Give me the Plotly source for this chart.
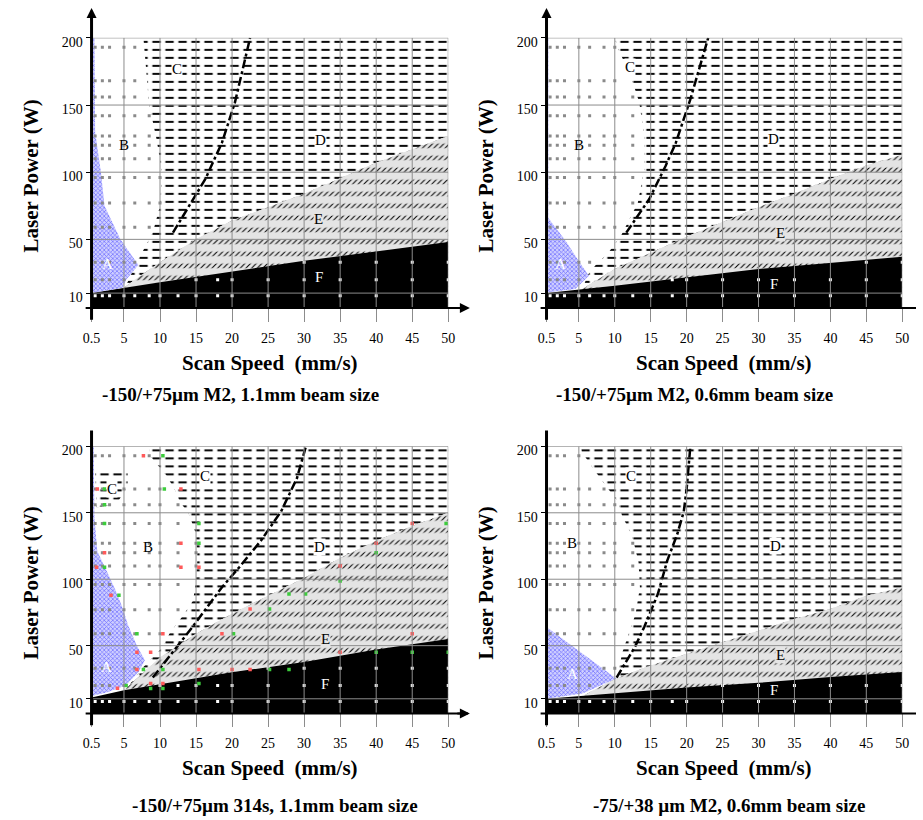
import numpy as np
import plotly.graph_objects as go

FIG_W, FIG_H = 923, 820
SERIF = "Liberation Serif"

# ---------------------------------------------------------------- data
# experimental grid: scan speed (mm/s) x laser power (W)
speeds = [1, 2, 3, 5, 6.5, 8.5, 10, 12.5, 15, 18, 20, 25, 30, 35, 40, 45, 50]
powers = [8, 20, 33, 59, 77, 96, 110, 120, 127, 142, 156, 168, 193]

x_tick_vals = [0.5, 5, 10, 15, 20, 25, 30, 35, 40, 45, 50]
x_tick_text = ["0.5", "5", "10", "15", "20", "25", "30", "35", "40", "45", "50"]
y_tick_vals = [10, 50, 100, 150, 200]

# panel 1: -150/+75um M2, 1.1mm beam
p1_f_x = [0.5, 5, 10, 30, 50]
p1_f_y = [10, 14, 18, 34, 48]
p1_e_x = [5, 6.5, 10, 15, 20, 30, 40, 50]
p1_e_y = [14, 20, 33, 50, 64, 84, 107, 127]
p1_cd_x = [7.7, 8.5, 9.5, 10.3, 10, 9, 7.5, 6.5, 5.5]
p1_cd_y = [200, 150, 125, 100, 75, 55, 40, 30, 18]
p1_a_x = [0.5, 0.9, 1.0, 1.8, 2.3, 4.5, 7.0, 5.3, 4.8, 0.5]
p1_a_y = [200, 200, 130, 100, 75, 50, 31, 20, 14, 10]
p1_cd_div_x = [11.8, 16.3, 18.6, 20.4, 22.5]
p1_cd_div_y = [55, 95, 122, 152, 200]
p1_labels = {"A": (2.7, 32), "B": (5.0, 120), "C": (12.3, 177), "D": (32.3, 124),
             "E": (32, 65), "F": (32, 22)}

# panel 2: -150/+75um M2, 0.6mm beam
p2_f_x = [0.5, 10, 30, 50]
p2_f_y = [10, 15.5, 28, 37]
p2_e_x = [5.5, 10, 15, 20, 25, 30, 35, 40, 45, 50]
p2_e_y = [13, 28, 40, 52, 63, 74, 84, 95, 105, 113]
p2_cd_x = [10.0, 10.3, 11.4, 12.5, 13.4, 14.1, 14.1, 13.2, 10.9, 9.1, 6.8, 6.2]
p2_cd_y = [200, 194, 181, 167, 152, 127, 102, 77, 53, 40, 28, 23]
p2_a_x = [0.5, 0.75, 0.75, 3.2, 5.0, 6.4, 4.5, 0.5]
p2_a_y = [200, 200, 66, 48.6, 33.7, 23, 13, 10.5]
p2_cd_div_x = [11.6, 14.8, 17.1, 18.5, 20.5, 22.1, 23]
p2_cd_div_y = [55, 80, 105, 122, 154, 183, 200]
p2_labels = {"A": (2.5, 32), "B": (5.0, 120), "C": (12.1, 178), "D": (32.1, 125),
             "E": (33.1, 55), "F": (32.1, 17)}

# panel 3: -150/+75um 314s, 1.1mm beam
p3_f_x = [0.5, 5, 10, 20, 30, 40, 50]
p3_f_y = [11, 16.5, 21, 30, 37.6, 47, 55]
p3_e_x = [5, 7, 10, 15, 20, 25, 30, 35, 40, 45, 50]
p3_e_y = [16.5, 26, 41, 59, 74, 87.5, 101, 116, 129, 140, 150]
p3_cd_x = [8.6, 8.6, 10.9, 12, 12.7, 14, 15, 15.2, 15, 14.6, 13.1, 11.3, 10.4, 7.7, 6.3, 5.2]
p3_cd_y = [200, 193, 178, 168, 159, 149, 134, 116, 99, 84, 72, 59, 49, 34, 24, 18]
p3_c2_x = [1, 5.5, 5.5, 4, 1.2]
p3_c2_y = [183, 183, 170, 157, 154]
p3_a_x = [0.5, 0.8, 0.9, 1.3, 2.7, 3.8, 4.7, 5.6, 6.8, 7.9, 7.0, 5.2, 2.7, 0.5]
p3_a_y = [200, 200, 146, 121, 105, 92, 80, 65, 50, 39, 30, 20, 15, 12]
p3_cd_div_x = [9, 14.5, 18.6, 21, 24, 26.8, 29, 30.2]
p3_cd_div_y = [26, 64, 94, 109, 129, 151, 176, 199]
p3_labels = {"A": (2.6, 34), "B": (8.4, 124), "C": (16.3, 178), "C2": (3.4, 168),
             "D": (32.2, 124), "E": (32.9, 55), "F": (32.9, 21.5)}
# observed track outcomes for panel 3
p3_red_x = [7.7, 1.3, 12.9, 12.9, 2.3, 1.2, 12.9, 15.4, 3.2, 10.4, 6.8, 8.7, 6.8,
            15.4, 20, 22.5, 4.1, 8.7, 10.4, 18.6, 22.5, 35, 40, 45, 45, 35]
p3_red_y = [193, 168, 168, 127, 120, 109, 109, 109, 88, 59, 45, 45, 32,
            32, 32, 32, 18, 21.5, 21.5, 59, 77.6, 110, 127, 142, 59, 45]
p3_green_x = [10.4, 2.3, 10.6, 2.3, 2.3, 15.4, 15.4, 2.3, 4.3, 6.8, 7.7, 10.4, 5.3,
              8.7, 10.4, 15.4, 20.2, 25.2, 27.9, 30.2, 35, 40, 49.7, 40, 45, 50, 25.2, 27.9]
p3_green_y = [193, 168, 168, 156, 142, 142, 127, 109, 88, 59, 32, 32, 20,
              17.7, 17.7, 21.5, 59, 77.6, 88.8, 88.8, 98.7, 120, 142, 45, 45, 45, 32, 32]

# panel 4: -75/+38um M2, 0.6mm beam
p4_f_x = [0.5, 5, 10, 20, 30, 40, 50]
p4_f_y = [10, 12, 14.5, 18.5, 22, 26.4, 30.2]
p4_e_x = [5.8, 10.2, 15, 20, 25, 30, 35, 40, 45, 50]
p4_e_y = [12.8, 25.5, 35, 44, 52.6, 61.3, 70, 77.5, 87.5, 93.7]
p4_cd_x = [5.3, 5.4, 6.4, 7.3, 9.1, 10.5, 11, 12.4, 13.3, 13.5, 12.9, 11.9, 11, 10.5, 10.2]
p4_cd_y = [200, 196, 188, 181, 168, 158, 148, 133, 113, 94, 74, 59, 44, 29, 25.5]
p4_a_x = [0.5, 10.2, 5.5, 0.5]
p4_a_y = [64, 25.2, 14, 10]
p4_cd_div_x = [10.25, 12.8, 14.1, 16, 17.3, 18.7, 19.6, 20, 20.5]
p4_cd_div_y = [26, 49, 64, 89, 114, 134, 151, 168, 199]
p4_labels = {"A": (4.1, 29), "B": (4.1, 127), "C": (12.3, 178), "D": (32.4, 125),
             "E": (33.1, 42.6), "F": (32.2, 16.5)}

subtitles = ["-150/+75µm M2, 1.1mm beam size",
             "-150/+75µm M2, 0.6mm beam size",
             "-150/+75µm 314s, 1.1mm beam size",
             "-75/+38 µm M2, 0.6mm beam size"]

# ---------------------------------------------------------------- layout geometry (pixels)
# (left, right, top, bottom) of each plotting area
boxes = [(84, 447, 35, 306), (547, 909, 35, 306), (84, 447, 445, 713), (547, 909, 445, 713)]
X_RANGE = [0.5, 50]
Y_RANGE = [-1, 200]


def px(x):
    return x / FIG_W


def py(y):
    return 1 - y / FIG_H


panels = [
    dict(f=(p1_f_x, p1_f_y), e=(p1_e_x, p1_e_y), cd=(p1_cd_x, p1_cd_y), a=(p1_a_x, p1_a_y),
         div=(p1_cd_div_x, p1_cd_div_y), labels=p1_labels, extra_c=None, arrow_top=True),
    dict(f=(p2_f_x, p2_f_y), e=(p2_e_x, p2_e_y), cd=(p2_cd_x, p2_cd_y), a=(p2_a_x, p2_a_y),
         div=(p2_cd_div_x, p2_cd_div_y), labels=p2_labels, extra_c=None, arrow_top=True),
    dict(f=(p3_f_x, p3_f_y), e=(p3_e_x, p3_e_y), cd=(p3_cd_x, p3_cd_y), a=(p3_a_x, p3_a_y),
         div=(p3_cd_div_x, p3_cd_div_y), labels=p3_labels, extra_c=(p3_c2_x, p3_c2_y),
         arrow_top=False),
    dict(f=(p4_f_x, p4_f_y), e=(p4_e_x, p4_e_y), cd=(p4_cd_x, p4_cd_y), a=(p4_a_x, p4_a_y),
         div=(p4_cd_div_x, p4_cd_div_y), labels=p4_labels, extra_c=None, arrow_top=False),
]

CLEAR = "rgba(255,255,255,0)"
E_BG = "#e4e4e4"
DASH_PATTERN = dict(shape="-", fgcolor="black", bgcolor="white", size=8, solidity=0.24, fgopacity=1)
DASH_CUTS = dict(shape="|", fgcolor="white", bgcolor=CLEAR, size=13, solidity=0.36, fgopacity=1)
SLASH_PATTERN = dict(shape="/", fgcolor="black", bgcolor=E_BG, size=4, solidity=0.26, fgopacity=1)
SLASH_CUTS = dict(shape="-", fgcolor=E_BG, bgcolor=CLEAR, size=12, solidity=0.62, fgopacity=1)
A_PATTERN = dict(shape="x", fgcolor="#6c6cff", bgcolor="#cfcfff", size=3, solidity=0.4, fgopacity=1)


def region(x, y, xa, ya, pattern=None, color=None):
    kw = dict(x=x, y=y, mode="lines", fill="toself", line=dict(width=0, color="rgba(0,0,0,0)"),
              xaxis=xa, yaxis=ya, hoverinfo="skip", showlegend=False)
    if pattern is not None:
        kw["fillpattern"] = pattern
        kw["fillcolor"] = pattern["bgcolor"]
    else:
        kw["fillcolor"] = color
    return go.Scatter(**kw)


def classify(s, p, pan):
    fx, fy = pan["f"]
    ex, ey = pan["e"]
    cx, cy = pan["cd"]
    if p < np.interp(s, fx, fy):
        return "white"
    if s >= ex[0] and p < np.interp(s, ex, ey):
        return None
    edge = np.interp(p, cy[::-1], cx[::-1])
    if s > edge:
        return None
    return "gray"


fig = go.Figure()
layout = dict(width=FIG_W, height=FIG_H, margin=dict(l=0, r=0, t=0, b=0),
              paper_bgcolor="white", plot_bgcolor="white", autosize=False)
shapes, annotations = [], []

for i, pan in enumerate(panels):
    n = "" if i == 0 else str(i + 1)
    xa, ya = "x" + n, "y" + n
    l, r, t, b = boxes[i]
    layout["xaxis" + n] = dict(
        domain=[px(l), px(r)], range=X_RANGE, anchor=ya, tickvals=x_tick_vals,
        ticktext=x_tick_text, ticks="outside", ticklen=13, tickcolor="#8c8c8c", tickwidth=1,
        ticklabelstandoff=4,
        showgrid=False, zeroline=False, showline=False, fixedrange=True,
        tickfont=dict(family=SERIF, size=14, color="black"))
    layout["yaxis" + n] = dict(
        domain=[py(b), py(t)], range=Y_RANGE, anchor=xa, tickvals=y_tick_vals,
        ticks="outside", ticklen=5, tickcolor="black", tickwidth=1, ticklabelshift=4,
        showgrid=False, zeroline=False, showline=False, fixedrange=True,
        tickfont=dict(family=SERIF, size=14, color="black"))

    fx, fy = pan["f"]
    ex, ey = pan["e"]
    cx, cy = pan["cd"]
    # C / D: dashed region bounded by its left edge and the top of E
    cd_x = list(cx) + list(ex) + [50]
    cd_y = list(cy) + list(ey) + [200]
    fig.add_trace(region(cd_x, cd_y, xa, ya, DASH_PATTERN))
    fig.add_trace(region(cd_x, cd_y, xa, ya, DASH_CUTS))
    if pan["extra_c"] is not None:
        c2x, c2y = pan["extra_c"]
        fig.add_trace(region(c2x, c2y, xa, ya, DASH_PATTERN))
        fig.add_trace(region(c2x, c2y, xa, ya, DASH_CUTS))
    # E: hatched band
    e_x = list(ex) + [50, ex[0]]
    e_y = list(ey) + [-1, -1]
    fig.add_trace(region(e_x, e_y, xa, ya, SLASH_PATTERN))
    fig.add_trace(region(e_x, e_y, xa, ya, SLASH_CUTS))
    # F: solid black
    fig.add_trace(region(list(fx) + [50, 0.5], list(fy) + [-1, -1], xa, ya, color="black"))
    # A: blue
    ax_, ay_ = pan["a"]
    fig.add_trace(region(ax_, ay_, xa, ya, A_PATTERN))
    # C / D divider
    dx, dy = pan["div"]
    fig.add_trace(go.Scatter(x=dx, y=dy, mode="lines", xaxis=xa, yaxis=ya,
                             line=dict(color="black", width=2.5, dash="dashdot"),
                             hoverinfo="skip", showlegend=False))
    # experimental grid points
    gx, gy, wx, wy = [], [], [], []
    for s in speeds:
        for p in powers:
            c = classify(s, p, pan)
            if c == "gray":
                gx.append(s); gy.append(p)
            elif c == "white":
                wx.append(s); wy.append(p)
    fig.add_trace(go.Scatter(x=gx, y=gy, mode="markers", xaxis=xa, yaxis=ya,
                             marker=dict(symbol="square", size=3, color="#8a8a8a"),
                             hoverinfo="skip", showlegend=False))
    fig.add_trace(go.Scatter(x=wx, y=wy, mode="markers", xaxis=xa, yaxis=ya,
                             marker=dict(symbol="square", size=3, color="white"),
                             hoverinfo="skip", showlegend=False))
    if i == 2:
        fig.add_trace(go.Scatter(x=p3_red_x, y=p3_red_y, mode="markers", xaxis=xa, yaxis=ya,
                                 marker=dict(symbol="square", size=3.5, color="#ff5a5a"),
                                 hoverinfo="skip", showlegend=False))
        fig.add_trace(go.Scatter(x=p3_green_x, y=p3_green_y, mode="markers", xaxis=xa, yaxis=ya,
                                 marker=dict(symbol="square", size=3.5, color="#3ccc3c"),
                                 hoverinfo="skip", showlegend=False))

    # grid lines drawn above the regions
    for gxv in x_tick_vals[1:]:
        shapes.append(dict(type="line", xref=xa, yref=ya, x0=gxv, x1=gxv, y0=-1, y1=200,
                           line=dict(color="#8c8c8c", width=1), layer="above"))
    for gyv in y_tick_vals:
        shapes.append(dict(type="line", xref=xa, yref=ya, x0=0.5, x1=50, y0=gyv, y1=gyv,
                           line=dict(color="#8c8c8c", width=1), layer="above"))

    # axis lines with arrows
    y_top = 8 if pan["arrow_top"] else (t - 16)
    shapes.append(dict(type="line", xref="paper", yref="paper", x0=px(l), x1=px(l),
                       y0=py(b + 12), y1=py(y_top), line=dict(color="black", width=3),
                       layer="above"))
    x_end = r + 20 if i % 2 == 0 else FIG_W
    shapes.append(dict(type="line", xref="paper", yref="paper", x0=px(l - 6), x1=px(x_end),
                       y0=py(b), y1=py(b), line=dict(color="black", width=2), layer="above"))
    if pan["arrow_top"]:
        annotations.append(dict(xref="paper", yref="paper", x=px(l), y=py(5), ax=0, ay=14,
                                text="", showarrow=True, arrowhead=2, arrowsize=1,
                                arrowwidth=2, arrowcolor="black"))
    if i % 2 == 0:
        annotations.append(dict(xref="paper", yref="paper", x=px(r + 22), y=py(b), ax=-14, ay=0,
                                text="", showarrow=True, arrowhead=2, arrowsize=1,
                                arrowwidth=2, arrowcolor="black"))

    # region letters (C, D, E sit on a small clear patch of their hatching)
    for key, (lx, ly) in pan["labels"].items():
        letter = key[0]
        col = "white" if letter in ("A", "F") else "black"
        bg = {"C": "white", "D": "white", "E": E_BG}.get(letter, "rgba(0,0,0,0)")
        annotations.append(dict(xref=xa, yref=ya, x=lx, y=ly, text=letter, showarrow=False,
                                xanchor="center", yanchor="middle", bgcolor=bg, borderpad=0,
                                font=dict(family=SERIF, size=15, color=col)))

    # axis titles and panel caption
    mid = (l + r) / 2
    annotations.append(dict(xref="paper", yref="paper", x=px(l - 62), y=py((t + b) / 2 + 3),
                            xanchor="center", yanchor="middle",
                            text="<b>Laser Power (W)</b>", textangle=-90, showarrow=False,
                            font=dict(family=SERIF, size=21, color="black")))
    annotations.append(dict(xref="paper", yref="paper", x=px(mid), y=py(b + 55),
                            xanchor="center", yanchor="middle",
                            text="<b>Scan Speed  (mm/s)</b>", showarrow=False,
                            font=dict(family=SERIF, size=21, color="black")))
    annotations.append(dict(xref="paper", yref="paper", x=px(mid - 30 if i < 2 else mid + 5),
                            y=py(b + 87 if i < 2 else b + 92),
                            xanchor="center", yanchor="middle",
                            text="<b>" + subtitles[i] + "</b>",
                            showarrow=False, font=dict(family=SERIF, size=19, color="black")))

layout["shapes"] = shapes
layout["annotations"] = annotations
fig.update_layout(**layout)
fig.write_html("out.html")
